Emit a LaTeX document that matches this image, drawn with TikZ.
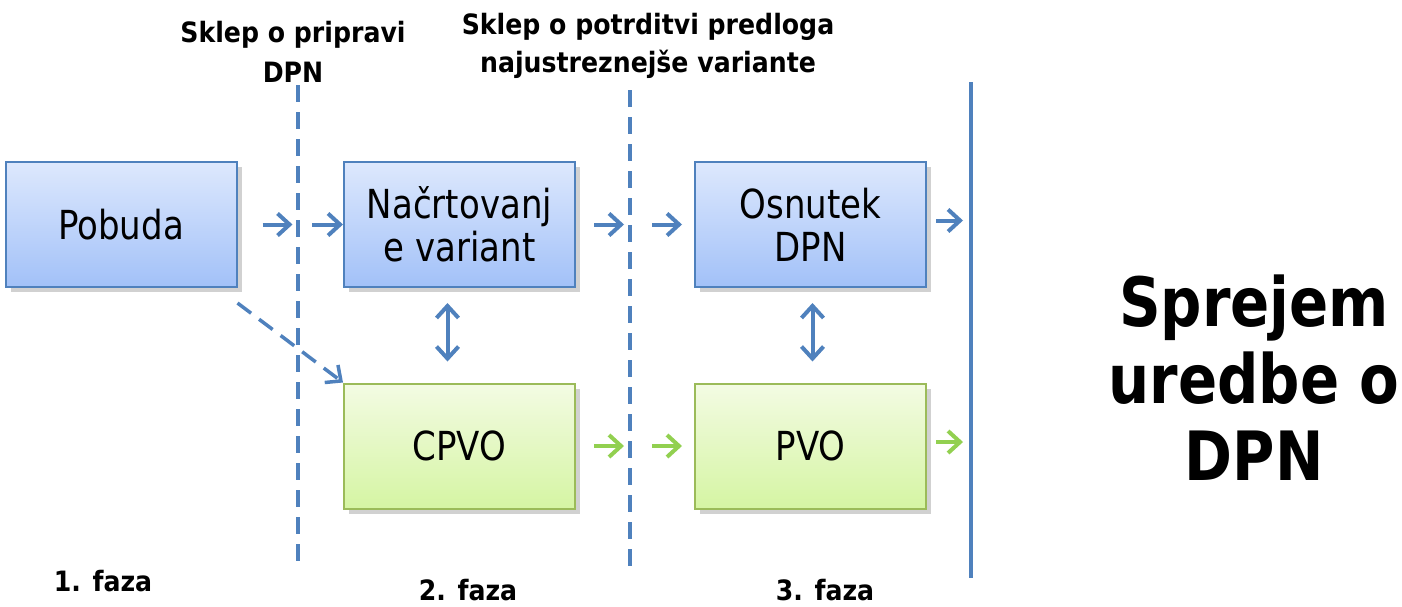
\documentclass[tikz,border=0pt]{standalone}
\usepackage{fontspec}
\setmainfont{DejaVu Sans}
\newfontfamily\boxfont{DejaVu Sans}[FakeStretch=0.85]
\newfontfamily\headfont{DejaVu Sans}[FakeStretch=0.9]
\usepackage{tikz}
\usetikzlibrary{arrows.meta,shadows}
\definecolor{myblue}{HTML}{4F81BD}
\definecolor{mygreen}{HTML}{92D050}
\definecolor{bluetop}{HTML}{DDE8FD}
\definecolor{bluebot}{HTML}{A2C1F8}
\definecolor{greentop}{HTML}{F3FBE3}
\definecolor{greenbot}{HTML}{D5F5A3}
\definecolor{greenedge}{HTML}{9BBB59}

\tikzset{
  phasebox/.style={line width=2pt, minimum width=231pt, minimum height=125pt,
    inner sep=0pt, align=center, font=\boxfont\fontsize{40}{43}\selectfont,
    drop shadow={shadow xshift=5pt, shadow yshift=-5pt, fill=black!30, opacity=.6}},
  bluebox/.style={phasebox, draw=myblue, top color=bluetop, bottom color=bluebot},
  greenbox/.style={phasebox, draw=greenedge, top color=greentop, bottom color=greenbot},
  arr/.style={-{Straight Barb[length=12pt,width=22pt]}, line width=4pt, myblue},
  garr/.style={arr, mygreen},
  darr/.style={{Straight Barb[length=12pt,width=22pt]}-{Straight Barb[length=12pt,width=22pt]}, line width=4pt, myblue},
  milestone/.style={myblue, line width=3.5pt, dash pattern=on 17pt off 10pt},
  title/.style={align=center, font=\headfont\bfseries\fontsize{28}{40}\selectfont},
  phase/.style={inner sep=0pt, font=\headfont\bfseries\fontsize{28}{30}\selectfont},
}

\begin{document}
\begin{tikzpicture}[x=1pt, y=-1pt]
    \useasboundingbox (0,0) rectangle (1402,606);
    % milestones
    \coordinate (m1top) at (298,85);  \coordinate (m1bot) at (298,570);
    \coordinate (m2top) at (630,90);  \coordinate (m2bot) at (630,570);
    \coordinate (endtop) at (971,82); \coordinate (endbot) at (971,578);
    \draw [milestone] (m1top) -- (m1bot);
    \draw [milestone] (m2top) -- (m2bot);
    \draw [myblue, line width=3.5pt] (endtop) -- (endbot);

    \node [title] (sklep1) at (293,52) {Sklep o pripravi\\DPN};
    \node [title, font=\headfont\bfseries\fontsize{28}{38}\selectfont] (sklep2) at (648,46) {Sklep o potrditvi predloga\\najustreznejše variante};

    % boxes
    \node [bluebox] (pobuda) at (121,224.5) {Pobuda};
    \node [bluebox] (nacrt) at (459.5,224.5) {Načrtovanj\\e variant};
    \node [bluebox] (osnutek) at (810.5,224.5) {Osnutek\\DPN};
    \node [greenbox] (cpvo) at (459.5,446) {CPVO};
    \node [greenbox] (pvo) at (810.5,446) {PVO};

    % arrows
    \draw [arr] ([xshift=25pt]pobuda.east) -- ([xshift=55pt]pobuda.east);
    \draw [arr] ([xshift=-31pt]nacrt.west) -- (nacrt.west);
    \draw [arr] ([xshift=18pt]nacrt.east) -- ([xshift=48pt]nacrt.east);
    \draw [arr] ([xshift=-42pt]osnutek.west) -- ([xshift=-12pt]osnutek.west);
    \draw [arr] ([xshift=9pt,yshift=4pt]osnutek.east) -- ([xshift=-8pt,yshift=4pt]endtop |- osnutek.east);
    \draw [garr] ([xshift=18pt]cpvo.east) -- ([xshift=48pt]cpvo.east);
    \draw [garr] ([xshift=-42pt]pvo.west) -- ([xshift=-12pt]pvo.west);
    \draw [garr] ([xshift=9pt,yshift=4pt]pvo.east) -- ([xshift=-8pt,yshift=4pt]endtop |- pvo.east);
    \draw [darr] ([xshift=-12pt,yshift=-15pt]nacrt.south) -- ([xshift=-12pt,yshift=21pt]cpvo.north);
    \draw [darr] ([xshift=2pt,yshift=-15pt]osnutek.south) -- ([xshift=2pt,yshift=21pt]pvo.north);
    \draw [arr, line width=3.5pt, dash pattern=on 17pt off 10pt] ([yshift=-15pt]pobuda.south east) -- (cpvo.north west);

    % phases
    \node [phase] (faza1) at (103,581) {1. faza};
    \node [phase] (faza2) at (468,590) {2. faza};
    \node [phase] (faza3) at (825,590) {3. faza};
    \node [align=center, font=\boxfont\bfseries\fontsize{68}{77}\selectfont] (sprejem) at (1254,378) {Sprejem\\uredbe o\\DPN};
\end{tikzpicture}
\end{document}
